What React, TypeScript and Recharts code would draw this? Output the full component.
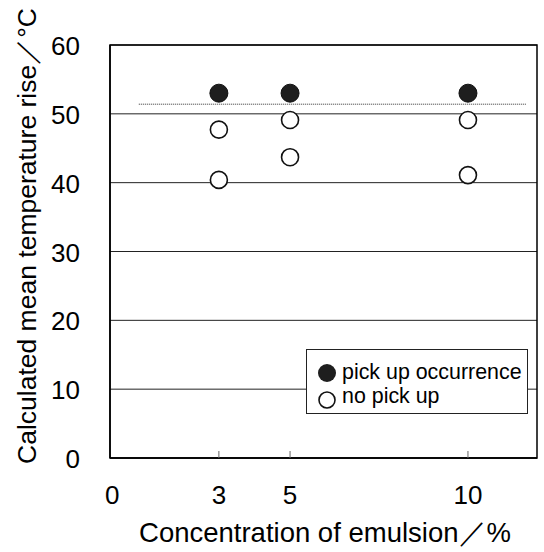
import React from 'react';
import {
  ScatterChart,
  Scatter,
  XAxis,
  YAxis,
  CartesianGrid,
  ReferenceLine,
  ReferenceArea,
  Legend,
  Label,
} from 'recharts';

// ---- data ----
const xTicks = [0, 3, 5, 10];
const yTicks = [0, 10, 20, 30, 40, 50, 60];
const xDomain = [-0.06, 11.94];
const yDomain = [0, 60];

const pickUpX = [3, 5, 10];
const pickUpY = [53.0, 53.0, 53.0];

const noPickUpX = [3, 3, 5, 5, 10, 10];
const noPickUpY = [47.7, 40.4, 49.1, 43.7, 49.1, 41.1];

const thresholdY = 51.4;
const thresholdFrom = 0.75;
const thresholdTo = 11.65;

const seriesNames = ['pick up occurrence', 'no pick up'];
const xTitle = 'Concentration of emulsion／%';
const yTitle = 'Calculated mean temperature rise／°C';

const pickUp = pickUpX.map((x, i) => ({ x, y: pickUpY[i] }));
const noPickUp = noPickUpX.map((x, i) => ({ x, y: noPickUpY[i] }));

const FONT = "'Liberation Sans', Arial, Helvetica, sans-serif";

const XTick = (props: any) => {
  const { x, y, payload } = props;
  return (
    <g>
      {payload.value !== 0 && (
        <line x1={x} x2={x} y1={y} y2={y - 7} stroke="#666" strokeWidth={1} />
      )}
      <text x={x} y={y + 46} textAnchor="middle" fontSize={26} fontFamily={FONT} fill="#000">
        {payload.value}
      </text>
    </g>
  );
};

const YTick = (props: any) => {
  const { x, y, payload } = props;
  return (
    <text x={x - 30} y={y + 10} textAnchor="end" fontSize={26} fontFamily={FONT} fill="#000">
      {payload.value}
    </text>
  );
};

const FilledDot = (props: any) => (
  <circle cx={props.cx} cy={props.cy} r={9} fill="#1e1e1e" stroke="#111" strokeWidth={1} />
);
const HollowDot = (props: any) => (
  <circle cx={props.cx} cy={props.cy} r={8.5} fill="#fff" stroke="#111" strokeWidth={1.6} />
);

const LegendBox = () => (
  <div
    style={{
      width: 222,
      height: 65,
      boxSizing: 'border-box',
      border: '1.5px solid #222',
      background: '#fff',
      position: 'relative',
      fontFamily: FONT,
      fontSize: 21.4,
      color: '#000',
    }}
  >
    <svg width={30} height={65} style={{ position: 'absolute', left: 0, top: 0 }}>
      <circle cx={20} cy={23} r={9} fill="#1e1e1e" />
      <circle cx={20} cy={50} r={8} fill="#fff" stroke="#111" strokeWidth={1.6} />
    </svg>
    <div style={{ position: 'absolute', left: 35, top: 9, lineHeight: '26px', whiteSpace: 'nowrap' }}>
      {seriesNames[0]}
    </div>
    <div style={{ position: 'absolute', left: 35, top: 33, lineHeight: '26px', whiteSpace: 'nowrap' }}>
      {seriesNames[1]}
    </div>
  </div>
);

export default function App() {
  return (
    <div style={{ position: 'absolute', left: 0, top: 0, width: 544, height: 552, background: '#fff' }}>
      <ScatterChart width={544} height={552} margin={{ top: 45, right: 7, left: 0, bottom: 0 }}>
        <CartesianGrid vertical={false} horizontal={true} stroke="#222" strokeWidth={1} />
        <XAxis
          type="number"
          dataKey="x"
          domain={xDomain}
          ticks={xTicks}
          allowDataOverflow
          height={94}
          tickSize={0}
          tickMargin={0}
          tickLine={false}
          axisLine={{ stroke: '#000', strokeWidth: 1.5 }}
          tick={<XTick />}
          interval={0}
        >
          <Label
            content={() => (
              <text x={325} y={542} textAnchor="middle" fontSize={27.5} fontFamily={FONT} fill="#000">
                {xTitle}
              </text>
            )}
          />
        </XAxis>
        <YAxis
          type="number"
          dataKey="y"
          domain={yDomain}
          ticks={yTicks}
          width={110}
          tickSize={0}
          tickMargin={0}
          tickLine={false}
          axisLine={{ stroke: '#000', strokeWidth: 1.5 }}
          tick={<YTick />}
          interval={0}
        >
          <Label
            content={() => (
              <text
                x={36}
                y={236}
                transform="rotate(-90, 36, 236)"
                textAnchor="middle"
                fontSize={26.5}
                fontFamily={FONT}
                fill="#000"
              >
                {yTitle}
              </text>
            )}
          />
        </YAxis>
        <ReferenceArea
          x1={xDomain[0]}
          x2={xDomain[1]}
          y1={yDomain[0]}
          y2={yDomain[1]}
          fill="none"
          stroke="#000"
          strokeWidth={1.5}
          ifOverflow="visible"
        />
        <ReferenceLine
          segment={[
            { x: thresholdFrom, y: thresholdY },
            { x: thresholdTo, y: thresholdY },
          ]}
          stroke="#333"
          strokeWidth={1}
          strokeDasharray="1 1"
        />
        <Legend
          layout="horizontal"
          align="center"
          verticalAlign="middle"
          content={<LegendBox />}
          wrapperStyle={{ position: 'absolute', left: 306, top: 349, width: 222, height: 65, bottom: 'auto', right: 'auto' }}
        />
        <Scatter name={seriesNames[0]} data={pickUp} shape={<FilledDot />} isAnimationActive={false} />
        <Scatter name={seriesNames[1]} data={noPickUp} shape={<HollowDot />} isAnimationActive={false} />
      </ScatterChart>
    </div>
  );
}
